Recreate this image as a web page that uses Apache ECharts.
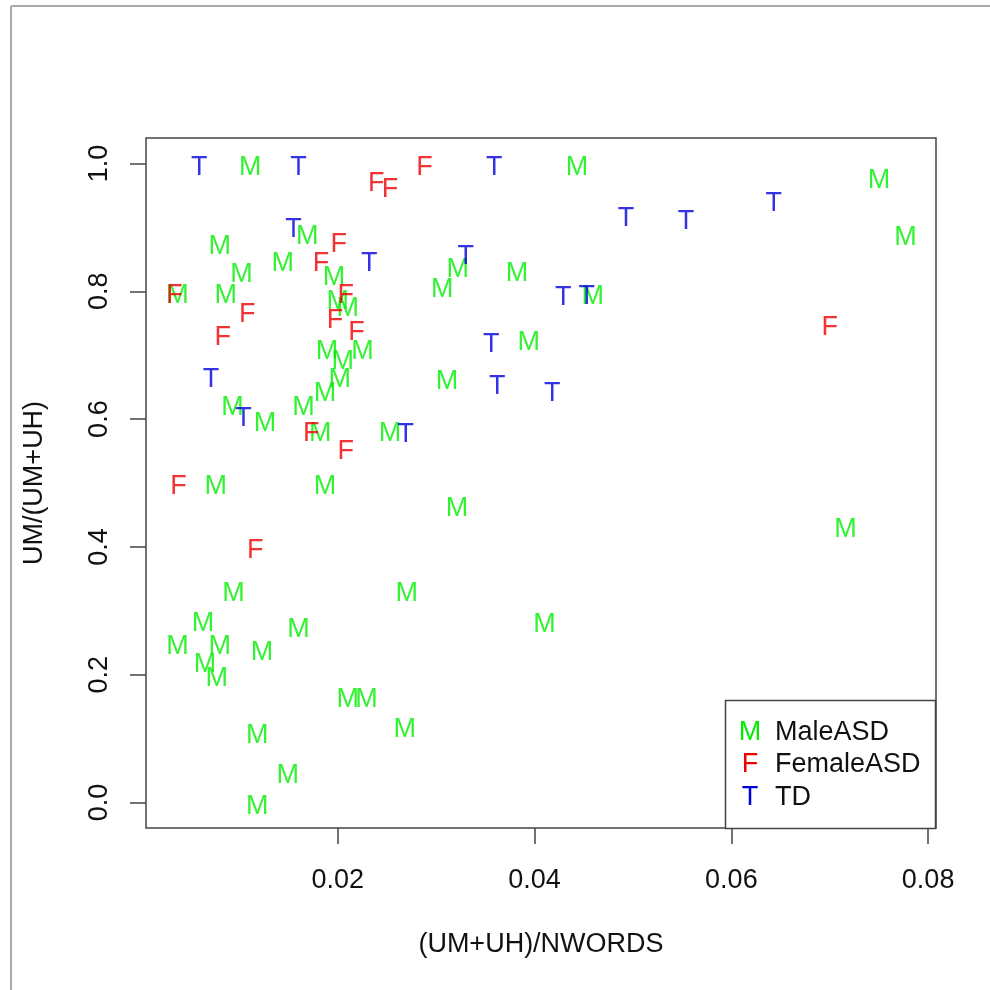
<!DOCTYPE html>
<html>
<head>
<meta charset="utf-8">
<script src="https://cdn.jsdelivr.net/npm/echarts@6/dist/echarts.min.js"></script>
<style>
html,body{margin:0;padding:0;background:#fff;}
#chart{width:990px;height:990px;}
</style>
</head>
<body>
<div id="chart"></div>
<script>
// ---- data ----
const maleX = [0.0111,0.0443,0.0750,0.0777,0.0169,0.0080,0.0102,0.0144,0.0196,0.0037,0.0086,0.0200,0.0210,0.0306,0.0322,0.0382,0.0459,0.0394,0.0311,0.0189,0.0205,0.0225,0.0202,0.0187,0.0165,0.0093,0.0126,0.0182,0.0253,0.0076,0.0187,0.0321,0.0716,0.0094,0.0270,0.0063,0.0037,0.0080,0.0123,0.0160,0.0065,0.0077,0.0210,0.0229,0.0268,0.0118,0.0149,0.0118,0.0410];
const maleY = [1.0,1.0,0.98,0.89,0.892,0.876,0.832,0.850,0.828,0.80,0.80,0.790,0.779,0.809,0.840,0.834,0.798,0.726,0.665,0.712,0.696,0.712,0.668,0.646,0.625,0.625,0.600,0.583,0.583,0.50,0.50,0.466,0.433,0.333,0.333,0.286,0.25,0.25,0.241,0.277,0.222,0.20,0.167,0.167,0.121,0.111,0.048,0.0,0.284];
const femaleX = [0.0239,0.0253,0.0288,0.0201,0.0183,0.0208,0.0197,0.0219,0.0108,0.0083,0.0034,0.0700,0.0173,0.0208,0.0038,0.0116];
const femaleY = [0.975,0.966,1.0,0.879,0.85,0.80,0.76,0.741,0.77,0.734,0.80,0.75,0.583,0.556,0.50,0.40];
const tdX = [0.0059,0.0160,0.0359,0.0155,0.0232,0.0330,0.0493,0.0554,0.0643,0.0429,0.0453,0.0356,0.0362,0.0418,0.0071,0.0104,0.0269];
const tdY = [1.0,1.0,1.0,0.903,0.85,0.86,0.92,0.915,0.944,0.796,0.798,0.723,0.658,0.647,0.668,0.607,0.582];
const xTicks = [0.02,0.04,0.06,0.08];
const yTicks = [0.0,0.2,0.4,0.6,0.8,1.0];
const groups = [
  {name:'MaleASD', letter:'M', color:'#00ee00', xs:maleX, ys:maleY},
  {name:'FemaleASD', letter:'F', color:'#ee0000', xs:femaleX, ys:femaleY},
  {name:'TD', letter:'T', color:'#0000dd', xs:tdX, ys:tdY}
];
const xTitle = '(UM+UH)/NWORDS';
const yTitle = 'UM/(UM+UH)';

const FONT = '"Liberation Sans", Arial, Helvetica, sans-serif';
const FS = 27;
const chart = echarts.init(document.getElementById('chart'), null, {renderer:'canvas'});

const series = groups.map(g => ({
  type:'scatter',
  name:g.name,
  data:g.xs.map((x,i)=>[x,g.ys[i]]),
  symbol:'circle',
  symbolSize:2,
  itemStyle:{color:'rgba(0,0,0,0)'},
  label:{show:true, position:'inside', offset:[0,4], formatter:g.letter, color:g.color,
         fontSize:FS, fontFamily:FONT, textBorderWidth:0},
  emphasis:{disabled:true},
  silent:true,
  animation:false
}));

const legendRows = [733, 765, 798];
const graphics = [
  {type:'line', shape:{x1:11,y1:6,x2:990,y2:6}, style:{stroke:'#aaaaaa', lineWidth:2}},
  {type:'line', shape:{x1:11,y1:6,x2:11,y2:990}, style:{stroke:'#aaaaaa', lineWidth:2}},
  {type:'rect', shape:{x:725.5,y:700.5,width:210,height:128}, style:{fill:'#fff', stroke:'#444', lineWidth:1.5}, z:10}
];
groups.forEach((g,i)=>{
  graphics.push({type:'text', x:750, y:legendRows[i], z:11,
    style:{text:g.letter, fill:g.color, font:FS+'px '+FONT, align:'center', verticalAlign:'middle'}});
  graphics.push({type:'text', x:775, y:legendRows[i], z:11,
    style:{text:g.name, fill:'#111', font:FS+'px '+FONT, align:'left', verticalAlign:'middle'}});
});

chart.setOption({
  backgroundColor:'#fff',
  animation:false,
  grid:{left:146, right:54, top:138, bottom:162, show:true, borderColor:'#444', borderWidth:1.5, backgroundColor:'transparent'},
  xAxis:{
    type:'value', min:0.0005, max:0.0808,
    axisLine:{show:false, onZero:false},
    splitLine:{show:false},
    axisTick:{show:true, length:16, inside:false, customValues:xTicks, lineStyle:{color:'#444', width:1.5}},
    axisLabel:{show:true, customValues:xTicks, margin:39, fontSize:FS, fontFamily:FONT, color:'#111',
               formatter:v=>v.toFixed(2)},
    name:xTitle, nameLocation:'middle', nameGap:103,
    nameTextStyle:{fontSize:FS, fontFamily:FONT, color:'#111'}
  },
  yAxis:{
    type:'value', min:-0.04, max:1.04,
    axisLine:{show:false, onZero:false},
    splitLine:{show:false},
    axisTick:{show:true, length:16, inside:false, customValues:yTicks, lineStyle:{color:'#444', width:1.5}},
    axisLabel:{show:true, customValues:yTicks, margin:33, rotate:90, fontSize:FS, fontFamily:FONT, color:'#111',
               formatter:v=>v.toFixed(1)},
    name:yTitle, nameLocation:'middle', nameGap:98,
    nameTextStyle:{fontSize:FS, fontFamily:FONT, color:'#111'}
  },
  series:series,
  graphic:graphics
});
</script>
</body>
</html>
